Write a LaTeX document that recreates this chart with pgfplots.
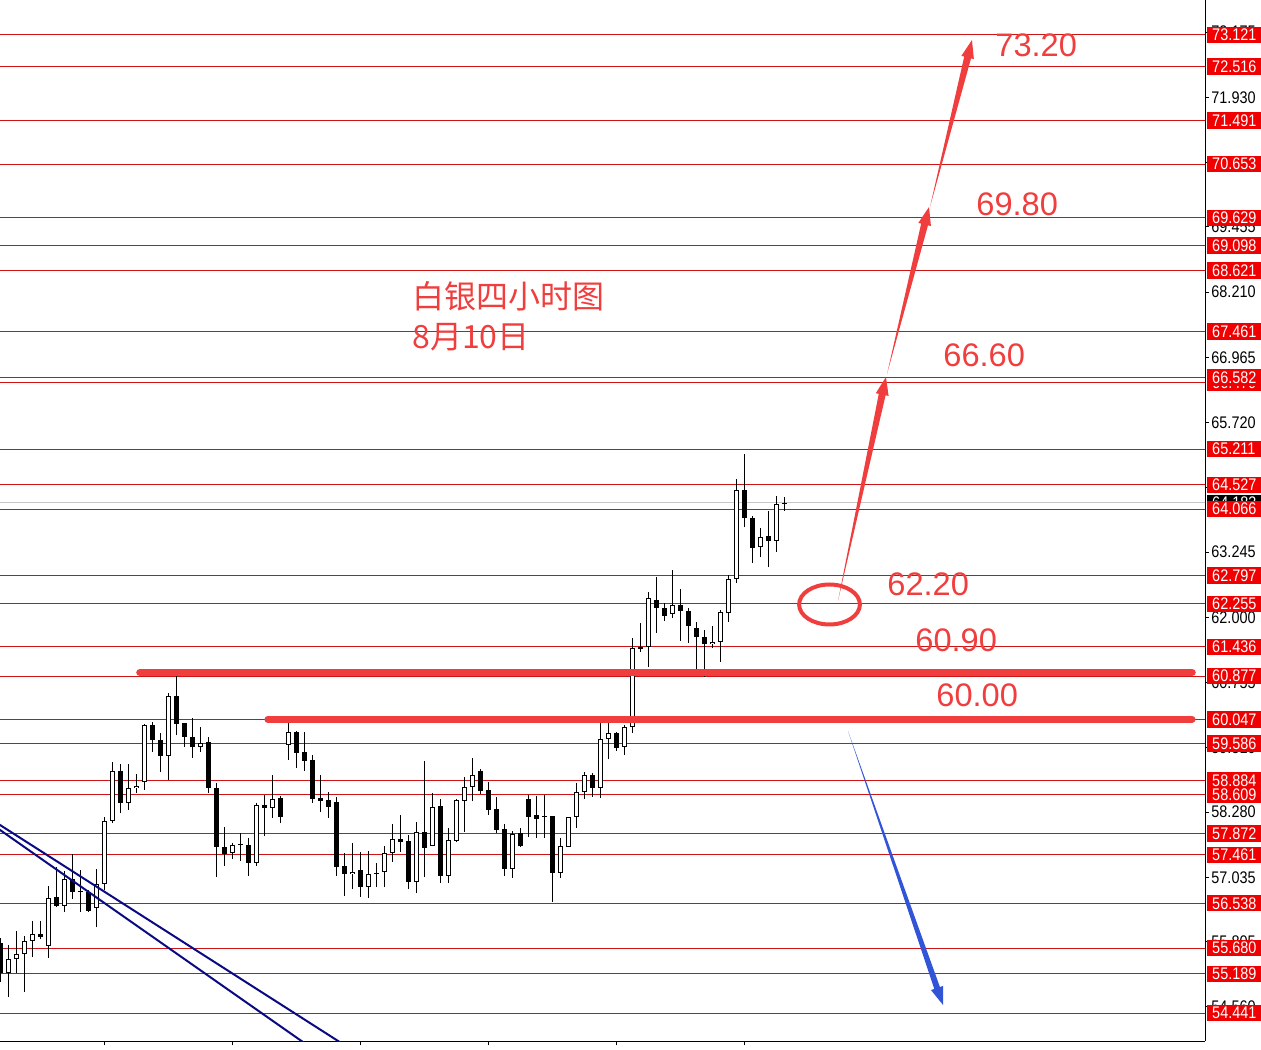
\documentclass[border=0pt]{standalone}
\usepackage{pgfplots}
\pgfplotsset{compat=1.18}
\usepackage{pgfplotstable}
\usetikzlibrary{arrows.meta}
\usepackage{fontspec}
\setmainfont{Liberation Sans}
\newfontfamily\cjk{Noto Sans CJK SC}
\newfontfamily\lblfont[FakeStretch=0.86]{Liberation Sans}
\definecolor{lvl}{RGB}{205,20,20}
\definecolor{lbl}{RGB}{240,0,0}
\definecolor{ann}{RGB}{240,62,62}
\definecolor{annblue}{RGB}{50,85,215}
\definecolor{trend}{RGB}{10,10,130}

\pgfplotstableread{
x o h l c
0 55.78 55.87 55.03 55.21
1 55.21 55.74 54.75 55.47
2 55.47 56.01 55.21 55.57
3 55.57 55.91 54.84 55.82
4 55.82 56.20 55.51 55.95
5 55.95 56.20 55.86 55.89
6 55.72 56.87 55.49 56.64
7 56.66 57.23 56.47 56.49
8 56.49 57.15 56.37 57.00
9 57.00 57.48 56.62 56.75
10 56.75 57.17 56.37 56.75
11 56.75 56.79 56.37 56.39
12 56.45 57.19 56.08 56.91
13 56.91 58.19 56.79 58.11
14 58.11 59.24 58.07 59.07
15 59.07 59.20 58.26 58.45
16 58.45 59.20 58.32 58.74
17 58.74 59.01 58.65 58.78
18 58.85 59.96 58.70 59.94
19 59.94 60.00 59.43 59.66
20 59.66 59.79 59.04 59.35
21 59.35 60.55 58.89 60.50
22 60.50 60.90 59.75 59.96
23 59.98 59.98 59.52 59.71
24 59.71 60.08 59.31 59.52
25 59.52 59.91 59.43 59.60
26 59.62 59.71 58.65 58.74
27 58.74 58.84 57.04 57.62
28 57.62 58.00 57.25 57.48
29 57.50 57.69 57.38 57.65
30 57.65 57.88 57.34 57.65
31 57.65 57.79 57.06 57.31
32 57.31 58.45 57.25 58.42
33 58.42 58.61 57.82 58.36
34 58.36 58.99 58.17 58.53
35 58.55 58.59 58.07 58.19
36 59.56 59.98 59.27 59.81
37 59.81 59.83 59.12 59.41
38 59.43 59.81 59.07 59.26
39 59.27 59.37 58.45 58.53
40 58.55 58.99 58.28 58.49
41 58.51 58.66 58.17 58.38
42 58.47 58.57 57.06 57.23
43 57.25 57.50 56.68 57.10
44 57.10 57.69 56.81 57.14
45 57.17 57.52 56.66 56.85
46 56.85 57.54 56.64 57.10
47 57.10 57.31 56.85 57.10
48 57.14 57.63 56.85 57.50
49 57.50 58.05 57.33 57.77
50 57.77 58.22 57.52 57.71
51 57.73 57.84 56.81 56.94
52 56.94 58.09 56.73 57.90
53 57.90 59.26 57.04 57.60
54 57.63 58.65 57.63 58.38
55 58.40 58.53 56.93 57.06
56 57.06 57.98 56.93 57.75
57 57.73 58.53 57.71 58.51
58 58.49 58.95 57.90 58.76
59 58.76 59.31 58.49 58.99
60 59.07 59.10 58.63 58.68
61 58.70 58.85 58.22 58.32
62 58.34 58.57 57.88 57.94
63 57.96 58.05 57.06 57.19
64 57.19 57.92 57.02 57.86
65 57.88 57.98 57.62 57.63
66 58.53 58.61 57.80 58.19
67 58.22 58.59 57.79 58.15
68 58.19 58.61 57.79 58.19
69 58.21 58.21 56.56 57.12
70 57.12 57.79 57.02 57.63
71 57.62 58.19 57.62 58.19
72 58.19 58.84 57.98 58.66
73 58.66 59.05 58.53 58.99
74 58.99 59.03 58.57 58.74
75 58.74 59.98 58.55 59.68
76 59.68 59.98 59.29 59.79
77 59.79 59.81 59.45 59.50
78 59.52 59.94 59.37 59.91
79 59.91 61.60 59.79 61.41
80 61.43 61.89 61.34 61.40
81 61.43 62.48 61.05 62.37
82 62.33 62.77 61.70 62.18
83 62.18 62.27 61.93 62.02
84 62.06 62.90 61.98 62.23
85 62.23 62.54 61.55 62.12
86 62.12 62.18 61.51 61.83
87 61.79 61.91 61.01 61.62
88 61.62 61.76 60.86 61.49
89 61.49 61.83 61.41 61.53
90 61.53 62.14 61.15 62.10
91 62.08 62.81 61.91 62.73
92 62.73 64.64 62.65 64.43
93 64.43 65.12 63.72 63.90
94 63.90 63.93 63.04 63.32
95 63.34 63.71 63.15 63.53
96 63.55 64.03 62.96 63.46
97 63.46 64.32 63.25 64.16
98 64.16 64.30 64.03 64.18
}\candles

\tikzset{
  redlbl/.style={fill=lbl, text=white, anchor=west, inner xsep=2.6pt, inner ysep=0pt,
    minimum height=8.2pt, text width=26pt, xshift=0.8pt, font=\lblfont\fontsize{8.4}{9}\selectfont},
  curlbl/.style={redlbl, fill=black},
  anntext/.style={text=ann, anchor=west, inner sep=0pt, font=\fontsize{16.3}{18}\selectfont},
}

\begin{document}
\begin{tikzpicture}
\begin{axis}[
  at={(0,0)}, anchor=south west,
  width=602.5pt, height=520.5pt, scale only axis,
  xmin=-0.0375, xmax=150.59, ymin=53.907, ymax=73.7895,
  axis x line=bottom, axis y line=right,
  axis line style={-, black, line width=0.5pt},
  xtick={13,29,45,61,77,93}, xticklabels={},
  ytick={54.560,55.805,57.035,58.280,59.510,60.755,62.000,63.245,64.475,65.720,66.965,68.210,69.455,70.685,71.930,73.175},
  yticklabels={54.560,55.805,57.035,58.280,59.510,60.755,62.000,63.245,64.475,65.720,66.965,68.210,69.455,70.685,71.930,73.175},
  tick align=outside, major tick length=2pt,
  tick style={black, line width=0.5pt},
  yticklabel style={font=\lblfont\fontsize{8.4}{9}\selectfont, inner sep=0pt, xshift=1pt, text=black},
  clip mode=individual,
  set layers,
]
% horizontal levels
\pgfplotsinvokeforeach{73.121,72.516,71.491,70.653,69.629,69.098,68.621,67.461,66.582,66.479,65.211,64.527,64.066,62.797,62.255,61.436,60.877,60.047,59.586,58.884,58.609,57.872,57.461,56.538,55.680,55.189,54.441}{
  \addplot[lvl, line width=0.5pt, forget plot] coordinates {(-1,#1) (152,#1)};
}
\addplot[black!22, line width=0.5pt, forget plot] coordinates {(-1,64.183) (152,64.183)};

% wicks
\addplot[draw=none, mark=none, forget plot,
  error bars/.cd, y dir=plus, y explicit, error mark=none,
  error bar style={draw=black, solid, line width=0.5pt}]
  table[x=x, y=l, y error plus expr={\thisrow{h}-\thisrow{l}}] {\candles};
% bodies (outline)
\addplot[draw=none, mark=none, forget plot,
  error bars/.cd, y dir=plus, y explicit, error mark=none,
  error bar style={draw=black, solid, line width=2.5pt}]
  table[x=x, y expr={min(\thisrow{o},\thisrow{c})}, y error plus expr={max(abs(\thisrow{c}-\thisrow{o}),0.02)}] {\candles};
% hollow inside of rising candles
\addplot[draw=none, mark=none, forget plot,
  error bars/.cd, y dir=plus, y explicit, error mark=none,
  error bar style={draw=white, solid, line width=1.5pt}]
  table[x=x, y expr={min(\thisrow{o},\thisrow{c})+0.019}, y error plus expr={(\thisrow{c}>\thisrow{o})*max(\thisrow{c}-\thisrow{o}-0.038,0)}] {\candles};

% trend lines
\addplot[trend, line width=1pt, forget plot] coordinates {(-1,58.127) (50,53.148)};
\addplot[trend, line width=1pt, forget plot] coordinates {(-1,58.041) (50,52.586)};

% thick support lines
\addplot[ann, line width=3.8pt, line cap=round, forget plot] coordinates {(17.46,60.946) (148.96,60.946)};
\addplot[ann, line width=3.6pt, line cap=round, forget plot] coordinates {(33.46,60.048) (148.96,60.048)};

\begin{pgfonlayer}{axis foreground}
% arrows
\fill[ann] (axis cs:104.71,62.311) -- (axis cs:110.66,66.240) -- (axis cs:111.04,66.226) -- (axis cs:110.71,66.589) -- (axis cs:109.44,66.280) -- (axis cs:109.81,66.267) -- cycle;
\fill[ann] (axis cs:110.84,66.647) -- (axis cs:115.96,69.485) -- (axis cs:116.33,69.471) -- (axis cs:116.09,69.836) -- (axis cs:114.75,69.532) -- (axis cs:115.11,69.519) -- cycle;
\fill[ann] (axis cs:116.21,69.836) -- (axis cs:121.34,72.674) -- (axis cs:121.70,72.661) -- (axis cs:121.46,73.026) -- (axis cs:120.13,72.722) -- (axis cs:120.49,72.709) -- cycle;
\fill[annblue] (axis cs:105.96,59.829) -- (axis cs:117.45,54.939) -- (axis cs:117.86,54.960) -- (axis cs:117.84,54.596) -- (axis cs:116.33,54.880) -- (axis cs:116.75,54.901) -- cycle;
\draw[ann, line width=2pt] (axis cs:103.65,62.244) ellipse [x radius=15.2pt, y radius=10pt];
% texts
\node[anntext] at (axis cs:124.34,72.930) {73.20};
\node[anntext] at (axis cs:121.96,69.893) {69.80};
\node[anntext] at (axis cs:117.84,67.010) {66.60};
\node[anntext] at (axis cs:110.84,62.636) {62.20};
\node[anntext] at (axis cs:114.34,61.566) {60.90};
\node[anntext] at (axis cs:116.96,60.516) {60.00};
\node[anntext, font=\cjk\fontsize{16}{18}\selectfont] at (axis cs:51.46,68.136) {白银四小时图};
\node[anntext, font=\cjk\fontsize{16}{18}\selectfont] at (axis cs:51.46,67.353) {8月10日};
% price labels
\node[curlbl] at (axis cs:150.59,64.183) {64.183};
\pgfplotsinvokeforeach{66.479,73.121,72.516,71.491,70.653,69.629,69.098,68.621,67.461,66.582,65.211,64.527,64.066,62.797,62.255,61.436,60.877,60.047,59.586,58.884,58.609,57.872,57.461,56.538,55.680,55.189,54.441}{
  \node[redlbl] at (axis cs:150.59,#1) {#1};
}
\end{pgfonlayer}
\end{axis}
\pgfresetboundingbox
\path[use as bounding box] (0,-4pt) rectangle (630.5pt,520.5pt);
\end{tikzpicture}
\end{document}
